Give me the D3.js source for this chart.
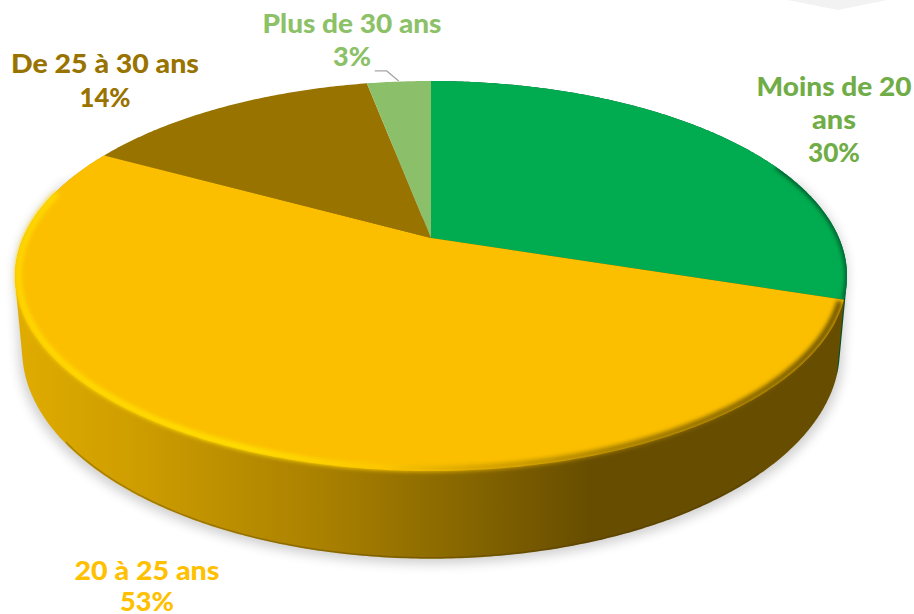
<!DOCTYPE html>
<html>
<head>
<meta charset="utf-8">
<script src="https://cdn.jsdelivr.net/npm/d3@7/dist/d3.min.js"></script>
<style>
html,body{margin:0;padding:0;background:#fff;overflow:hidden}
svg{display:block}
text{font-family:Lato,"Open Sans",sans-serif;font-weight:900;font-size:26px;text-anchor:middle}
</style>
</head>
<body>
<svg id="chart" width="914" height="614"></svg>
<script>
const categories = ["Moins de 20 ans", "20 à 25 ans", "De 25 à 30 ans", "Plus de 30 ans"];
const values = [30, 53, 14, 3];
const faceColors = ["#00ac4f", "#fbbf00", "#997300", "#8bbf69"];
const labelColors = ["#70ad47", "#ffc000", "#997300", "#8cc168"];
const labelLines = [["Moins de 20", "ans", "30%"], ["20 à 25 ans", "53%"], ["De 25 à 30 ans", "14%"], ["Plus de 30 ans", "3%"]];
const labelCentres = [[834, 96], [147, 580], [105, 73], [352, 33]];
const labelWidths = [[155, 44, 52], [145, 54], [188, 51], [179, 38]];
const lineGaps = [33, 31, 34, 33];

const svg = d3.select("#chart");
const defs = svg.append("defs");

const tilt = 0.195;
const topDisc = {x: 431, y: 238, a: 408, b: 187.6};
const baseDisc = {x: 431, y: 309, a: 401, b: 201};
const project = (disc, t, r = 1) => {
  const u = Math.sin(t) * r, v = Math.cos(t) * r, d = 1 + tilt * v;
  return [disc.x + disc.a * u / d, disc.y - disc.b * v / d];
};
const line = d3.line();
const arcPts = (disc, a0, a1, r = 1) => {
  const n = Math.max(2, Math.ceil(Math.abs(a1 - a0) / 0.01));
  return d3.range(n + 1).map(i => project(disc, a0 + (a1 - a0) * i / n, r));
};

const slices = d3.pie().sort(null)(values);

function grad(id, stops) {
  const g = defs.append("linearGradient").attr("id", id)
    .attr("gradientUnits", "userSpaceOnUse")
    .attr("x1", 0).attr("x2", 914).attr("y1", 0).attr("y2", 0);
  stops.forEach(s => g.append("stop").attr("offset", s[0] / 914).attr("stop-color", s[1]));
}
grad("wall", [[15, "#e0ac00"], [130, "#cf9e00"], [330, "#a87f00"], [450, "#8a6900"], [590, "#674d00"], [914, "#674d00"]]);
grad("rim", [[15, "#ffd800"], [250, "#ffe000"], [380, "#fcc800"], [470, "#d8a500"], [620, "#a07a00"], [840, "#6c5200"]]);

const blur = (id, s) => defs.append("filter").attr("id", id)
  .attr("x", "-10%").attr("y", "-10%").attr("width", "120%").attr("height", "120%")
  .append("feGaussianBlur").attr("stdDeviation", s);
blur("soft", 6);
blur("bevel", 2);
blur("edge", 0.7);

// page decoration, top right
svg.append("path").attr("d", "M787,0L838,10L887,0Z").attr("fill", "#f2f2f2");

// drop shadow
svg.append("path")
  .attr("d", line(d3.polygonHull(
    arcPts({...baseDisc, y: baseDisc.y + 5, a: baseDisc.a + 3}, 0, 2 * Math.PI)
      .concat(arcPts(topDisc, Math.PI * 0.4, Math.PI * 1.6)))) + "Z")
  .attr("fill", "#000").attr("opacity", 0.19).attr("filter", "url(#soft)");

// side walls: hull of the upper and lower rim of each slice gives the silhouette
svg.append("g").selectAll("path").data(slices.slice(0, 2)).join("path")
  .attr("d", d => line(d3.polygonHull(arcPts(topDisc, d.startAngle, d.endAngle).concat(arcPts(baseDisc, d.startAngle, d.endAngle)))) + "Z")
  .attr("fill", (d, i) => i === 0 ? "#00502a" : "url(#wall)");

// darker lower edge of the wall
svg.append("path")
  .attr("d", line(arcPts(baseDisc, Math.PI * 0.75, Math.PI * 1.3, 0.997)))
  .attr("fill", "none").attr("stroke", "#3f3000").attr("stroke-opacity", 0.3)
  .attr("stroke-width", 1.5).attr("filter", "url(#edge)");

// top faces
svg.append("g").selectAll("path").data(slices).join("path")
  .attr("d", d => line([[topDisc.x, topDisc.y]].concat(arcPts(topDisc, d.startAngle, d.endAngle))) + "Z")
  .attr("fill", (d, i) => faceColors[i]);

// bevels on the rim
const clipGreen = defs.append("clipPath").attr("id", "greenClip");
clipGreen.append("path")
  .attr("d", line([[topDisc.x, topDisc.y]].concat(arcPts(topDisc, slices[0].startAngle, slices[0].endAngle))) + "Z");
svg.append("path")
  .attr("d", line(arcPts(topDisc, slices[0].startAngle + 1.15, slices[0].endAngle)))
  .attr("fill", "none").attr("stroke", "#00502a").attr("stroke-width", 4)
  .attr("filter", "url(#bevel)").attr("clip-path", "url(#greenClip)");
svg.append("path")
  .attr("d", line(arcPts(topDisc, slices[1].startAngle + 0.01, slices[1].endAngle - 0.25, 0.992)))
  .attr("fill", "none").attr("stroke", "url(#rim)").attr("stroke-width", 6)
  .attr("filter", "url(#bevel)");

// leader line for the smallest slice
const last = slices[3];
const tip = project(topDisc, (last.startAngle + last.endAngle) / 2, 1.005);
svg.append("path")
  .attr("d", line([[tip[0] - 24, tip[1] - 10], [tip[0] - 12, tip[1] - 10], tip]))
  .attr("fill", "none").attr("stroke", "#a6a6a6").attr("stroke-width", 1.3);

// labels
const labels = svg.append("g").selectAll("g").data(categories).join("g")
  .attr("data-category", d => d)
  .attr("fill", (d, i) => labelColors[i])
  .attr("transform", (d, i) => `translate(${labelCentres[i]})`);
labels.each(function (d, i) {
  d3.select(this).selectAll("text").data(labelLines[i]).join("text")
    .attr("y", (t, j) => j * lineGaps[i])
    .attr("textLength", (t, j) => labelWidths[i][j])
    .attr("lengthAdjust", "spacingAndGlyphs")
    .text(t => t);
});
</script>
</body>
</html>
